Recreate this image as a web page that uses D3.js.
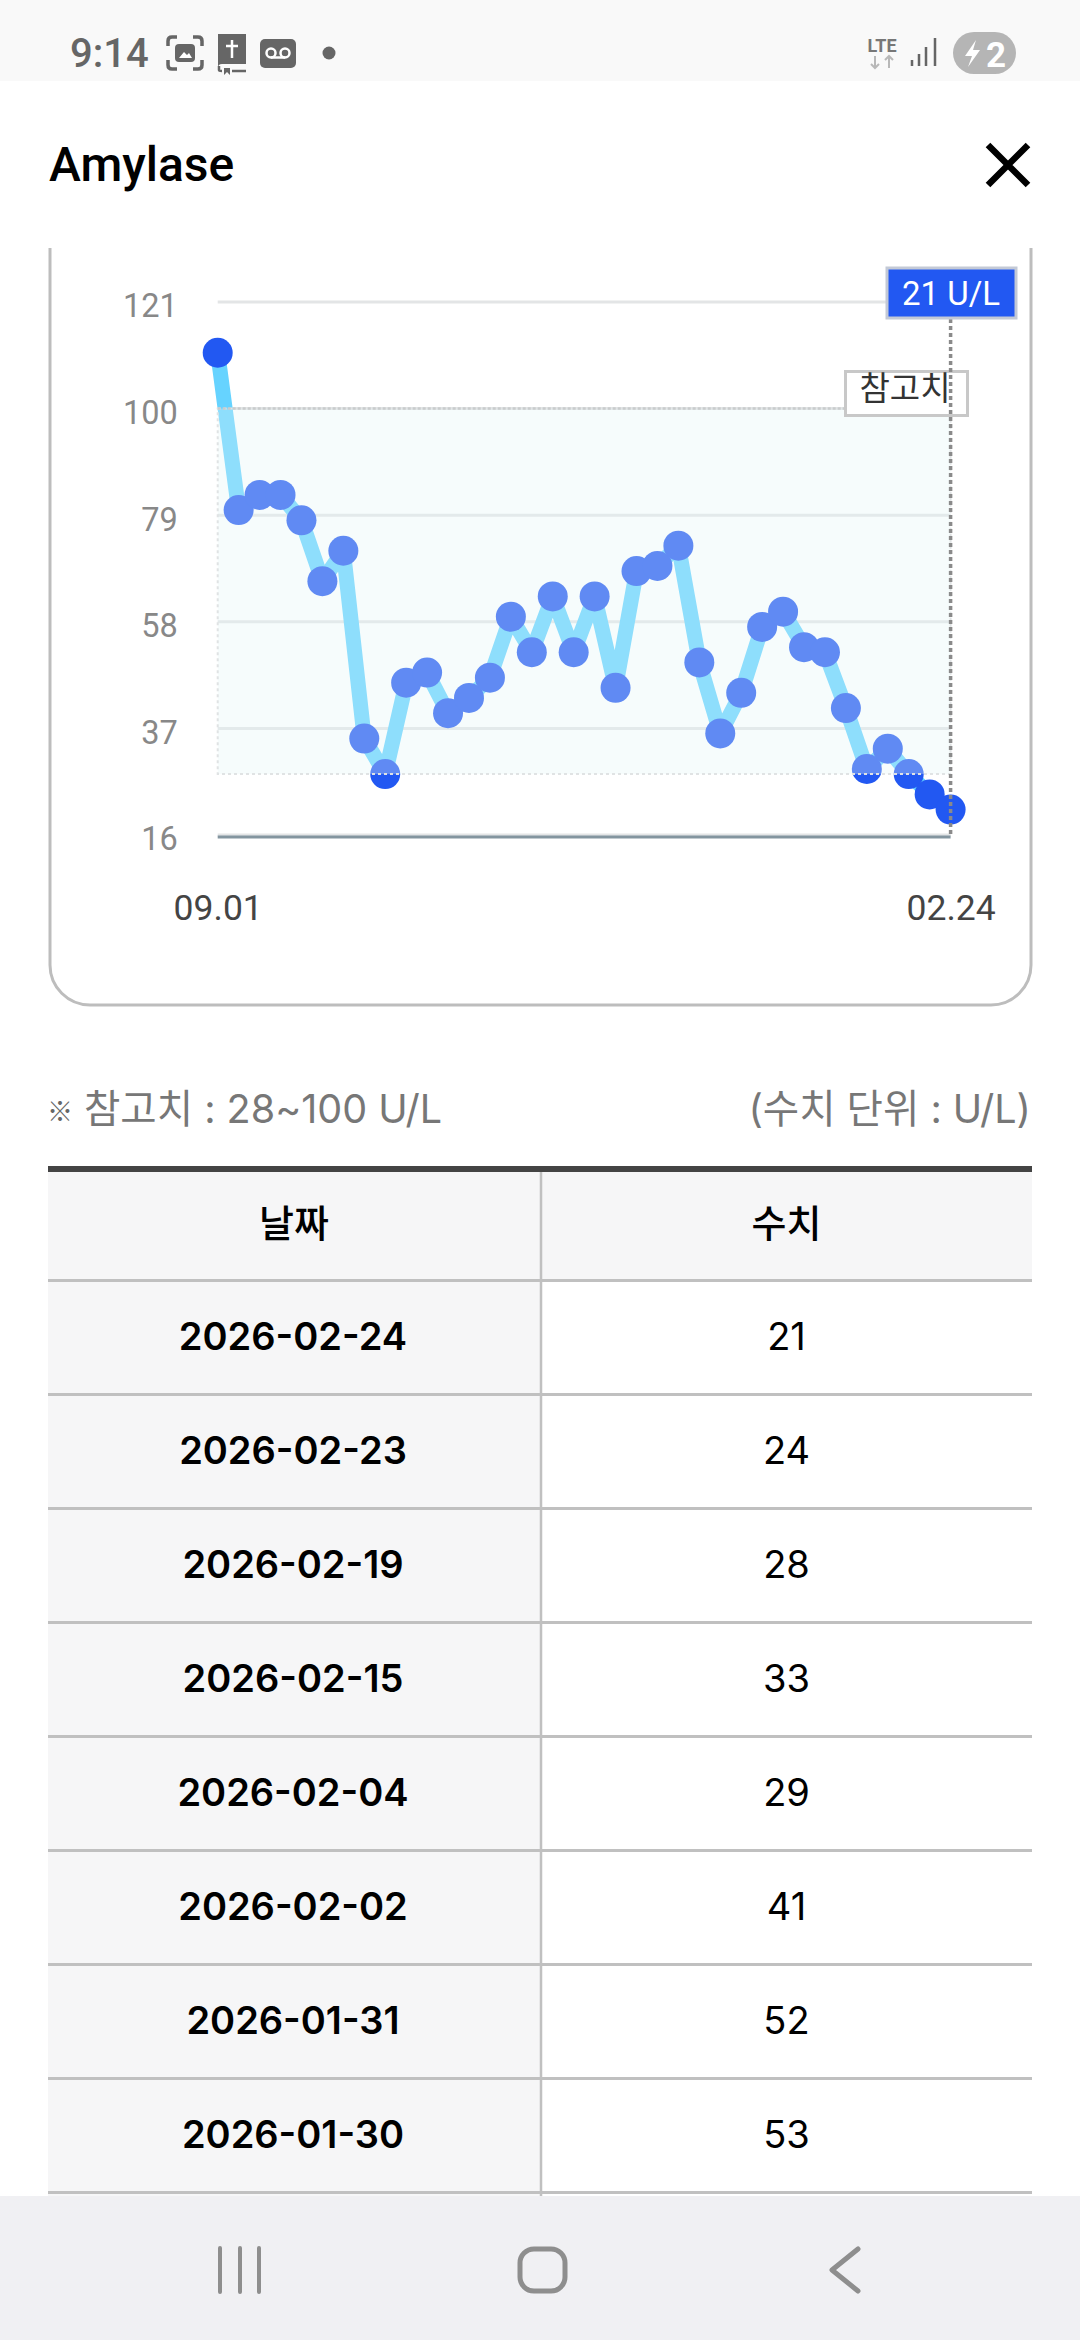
<!DOCTYPE html>
<html>
<head>
<meta charset="utf-8">
<script src="https://cdn.jsdelivr.net/npm/d3@7"></script>
<style>
  html, body { margin: 0; padding: 0; background: #fff; }
  svg { display: block; }
  text { font-family: Roboto, "Noto Sans CJK KR", sans-serif; }
  .kr { font-family: "Noto Sans CJK KR", sans-serif; }
  .in { font-family: Inter, "Noto Sans CJK KR", sans-serif; }
</style>
</head>
<body>
<div id="chart"></div>
<script>
const values = [111, 80, 83, 83, 78, 66, 72, 35, 28, 46, 48, 40, 43, 47, 59, 52, 63, 52,
                63, 45, 68, 69, 73, 50, 36, 44, 57, 60, 53, 52, 41, 29, 33, 28, 24, 21];
const yTicks = [16, 37, 58, 79, 100, 121];
const xLabels = ["09.01", "02.24"];
const refRange = [28, 100];
const tableDates = ["2026-02-24", "2026-02-23", "2026-02-19", "2026-02-15",
                    "2026-02-04", "2026-02-02", "2026-01-31", "2026-01-30"];
const tableValues = values.slice(-8).reverse();

const svg = d3.select("#chart").append("svg").attr("width", 1080).attr("height", 2340);

const x = d3.scalePoint().domain(d3.range(values.length)).range([217.7, 950.6]);
const y = d3.scaleLinear().domain([16, 121]).range([835, 302]);

// card, its top is cut off by the header below
svg.append("rect")
  .attr("x", 50).attr("y", 100).attr("width", 981).attr("height", 905).attr("rx", 40)
  .attr("fill", "#fff").attr("stroke", "#bdbdbd").attr("stroke-width", 3);

// grid + axes
const yAxis = d3.axisLeft(y).tickValues(yTicks).tickSize(0).tickPadding(40);
const gy = svg.append("g").attr("transform", `translate(${x(0)},0)`).call(yAxis);
gy.select(".domain").remove();
gy.selectAll("text")
  .attr("fill", "#888").attr("font-size", 32.5).attr("dy", "0.46em")
  .style("font-family", "Roboto");

svg.append("g").selectAll("line")
  .data(yTicks)
  .join("line")
  .attr("x1", x(0)).attr("x2", x(35))
  .attr("y1", d => y(d)).attr("y2", d => y(d))
  .attr("stroke", "#e3e5e6").attr("stroke-width", 3);

svg.append("line")
  .attr("x1", x(0)).attr("x2", x(35))
  .attr("y1", y(16) + 2).attr("y2", y(16) + 2)
  .attr("stroke", "#83959f").attr("stroke-width", 3);

const xAxis = d3.axisBottom(x)
  .tickValues([0, values.length - 1])
  .tickFormat((d, i) => xLabels[i])
  .tickSize(0);
const gx = svg.append("g").attr("transform", "translate(0,884)").call(xAxis);
gx.select(".domain").remove();
gx.selectAll("text")
  .attr("fill", "#444").attr("font-size", 35.5).attr("y", 0).attr("dy", "1em")
  .style("font-family", "Roboto");

// series
const line = d3.line().x((d, i) => x(i)).y(d => y(d));
svg.append("path")
  .datum(values)
  .attr("d", line)
  .attr("fill", "none")
  .attr("stroke", "#66d3ff")
  .attr("stroke-width", 15)
  .attr("stroke-linejoin", "round");

svg.append("g").selectAll("circle")
  .data(values)
  .join("circle")
  .attr("cx", (d, i) => x(i))
  .attr("cy", d => y(d))
  .attr("r", 15)
  .attr("fill", "#2258f2");

// reference band lies over the marks, that is what fades them
svg.append("rect")
  .attr("x", x(0)).attr("width", x(35) - x(0))
  .attr("y", y(refRange[1])).attr("height", y(refRange[0]) - y(refRange[1]))
  .attr("fill", "rgb(228,246,246)").attr("fill-opacity", 0.32)
  .attr("stroke", "#e0e3e4").attr("stroke-width", 2).attr("stroke-dasharray", "3,3");
svg.append("line")
  .attr("x1", x(0)).attr("x2", x(35))
  .attr("y1", y(refRange[1])).attr("y2", y(refRange[1]))
  .attr("stroke", "#c9cccd").attr("stroke-width", 2.5).attr("stroke-dasharray", "3,2");

// reference label
svg.append("rect")
  .attr("x", 845.5).attr("y", 371.5).attr("width", 122).attr("height", 44)
  .attr("fill", "#fff").attr("stroke", "#c8c8c8").attr("stroke-width", 3);
svg.append("text")
  .attr("class", "kr").attr("x", 905).attr("y", 400)
  .attr("text-anchor", "middle").attr("font-size", 33).attr("fill", "#333")
  .text("참고치");

// marker for the latest value
svg.append("line")
  .attr("x1", x(35)).attr("x2", x(35)).attr("y1", 319).attr("y2", 836)
  .attr("stroke", "#8a8a8a").attr("stroke-width", 3.5).attr("stroke-dasharray", "4,3");
svg.append("rect")
  .attr("x", 887).attr("y", 268).attr("width", 129).attr("height", 50)
  .attr("fill", "#2258f2").attr("stroke", "#c3c9d6").attr("stroke-width", 3);
svg.append("text")
  .attr("x", 951).attr("y", 304.5)
  .attr("text-anchor", "middle").attr("font-size", 33).attr("fill", "#fff")
  .text(values[values.length - 1] + " U/L");

// header and status bar
svg.append("rect").attr("width", 1080).attr("height", 248).attr("fill", "#fff");
svg.append("rect").attr("width", 1080).attr("height", 81).attr("fill", "#f9f9f9");

svg.append("text")
  .attr("x", 49).attr("y", 181).attr("font-size", 48).attr("font-weight", 500).attr("fill", "#000")
  .text("Amylase");
svg.append("path")
  .attr("d", "M988 145 L1028 185 M1028 145 L988 185")
  .attr("fill", "none").attr("stroke", "#000").attr("stroke-width", 6.5);

svg.append("text")
  .attr("x", 70).attr("y", 67).attr("font-size", 40).attr("font-weight", 500).attr("fill", "#666")
  .text("9:14");

const status = svg.append("g");
// screenshot icon
status.append("path")
  .attr("d", "M168 46 V41 Q168 37 172 37 H177 M193 37 H198 Q202 37 202 41 V46 M202 60 V65 Q202 69 198 69 H193 M177 69 H172 Q168 69 168 65 V60")
  .attr("fill", "none").attr("stroke", "#666").attr("stroke-width", 3.5);
status.append("rect").attr("x", 175).attr("y", 44).attr("width", 20).attr("height", 18).attr("rx", 4).attr("fill", "#666");
status.append("path").attr("d", "M179 58 L184 52 L187 55 L189 53 L192 58 Z").attr("fill", "#fff");
// book icon
status.append("path").attr("d", "M218 34 H246 V64 H222 Q218 64 218 68 Z").attr("fill", "#666");
status.append("path").attr("d", "M232 40 V58 M226 46 H238").attr("stroke", "#fff").attr("stroke-width", 2.5);
status.append("path").attr("d", "M219 66 V70 Q219 71 222 71 M232 71 H246").attr("fill", "none").attr("stroke", "#666").attr("stroke-width", 2.5);
status.append("path").attr("d", "M224 68 H230 V75 L227 72 L224 75 Z").attr("fill", "#666");
// voicemail icon
status.append("rect").attr("x", 260).attr("y", 39).attr("width", 36).attr("height", 29).attr("rx", 5).attr("fill", "#666");
status.append("circle").attr("cx", 271).attr("cy", 53).attr("r", 4.5).attr("fill", "none").attr("stroke", "#fff").attr("stroke-width", 2.5);
status.append("circle").attr("cx", 285).attr("cy", 53).attr("r", 4.5).attr("fill", "none").attr("stroke", "#fff").attr("stroke-width", 2.5);
status.append("path").attr("d", "M271 57.5 H285").attr("stroke", "#fff").attr("stroke-width", 2.5);
status.append("circle").attr("cx", 329).attr("cy", 53).attr("r", 6.5).attr("fill", "#666");
// network
status.append("text")
  .attr("x", 882).attr("y", 52).attr("text-anchor", "middle")
  .attr("font-size", 18).attr("font-weight", 700).attr("fill", "#777")
  .text("LTE");
status.append("path")
  .attr("d", "M875 56 V68 M871 64 L875 68 L879 64 M889 68 V56 M885 60 L889 56 L893 60")
  .attr("fill", "none").attr("stroke", "#b8b8b8").attr("stroke-width", 2);
status.append("path")
  .attr("d", "M912 60 V66 M919 54 V66 M926 47 V66 M935 38 V66")
  .attr("fill", "none").attr("stroke", "#666").attr("stroke-width", 2.5);
// battery
status.append("rect").attr("x", 953).attr("y", 32).attr("width", 63).attr("height", 42).attr("rx", 21).attr("fill", "#b5b5b5");
status.append("path").attr("d", "M976 40 L965 56 H972 L968 67 L980 50 H973 Z").attr("fill", "#fff");
status.append("text")
  .attr("x", 996).attr("y", 67).attr("text-anchor", "middle")
  .attr("font-size", 35).attr("font-weight", 700).attr("fill", "#fff")
  .text("2");

// note above the table
svg.append("text")
  .attr("class", "kr").attr("x", 47).attr("y", 1121)
  .attr("font-size", 26).attr("font-weight", 700).attr("fill", "#666")
  .text("※");
svg.append("text")
  .attr("class", "in").attr("x", 84).attr("y", 1123)
  .attr("font-size", 39.5).attr("fill", "#777")
  .text("참고치 : 28~100 U/L");
svg.append("text")
  .attr("class", "in").attr("x", 1031).attr("y", 1123)
  .attr("text-anchor", "end").attr("font-size", 39.5).attr("fill", "#777")
  .text("(수치 단위 : U/L)");

// table
const rowH = 114;
const tableTop = 1280.5;
const table = svg.append("g");
table.append("rect").attr("x", 48).attr("y", 1170).attr("width", 984).attr("height", tableTop - 1170).attr("fill", "#f6f6f7");
table.append("rect").attr("x", 48).attr("y", tableTop).attr("width", 493).attr("height", 930).attr("fill", "#f6f6f7");
table.append("rect").attr("x", 48).attr("y", 1166).attr("width", 984).attr("height", 6).attr("fill", "#444");
table.append("line")
  .attr("x1", 541).attr("x2", 541).attr("y1", 1172).attr("y2", 2200)
  .attr("stroke", "#c0c0c0").attr("stroke-width", 2.5);
table.selectAll("line.row")
  .data(d3.range(tableDates.length + 1))
  .join("line")
  .attr("class", "row")
  .attr("x1", 48).attr("x2", 1032)
  .attr("y1", d => tableTop + d * rowH).attr("y2", d => tableTop + d * rowH)
  .attr("stroke", "#c0c0c0").attr("stroke-width", 3);

table.append("text")
  .attr("class", "kr").attr("x", 294).attr("y", 1237)
  .attr("text-anchor", "middle").attr("font-size", 38).attr("font-weight", 500).attr("fill", "#000")
  .text("날짜");
table.append("text")
  .attr("class", "kr").attr("x", 786.5).attr("y", 1237)
  .attr("text-anchor", "middle").attr("font-size", 38).attr("font-weight", 500).attr("fill", "#000")
  .text("수치");

table.selectAll("text.date")
  .data(tableDates)
  .join("text")
  .attr("class", "date in")
  .attr("x", 293).attr("y", (d, i) => tableTop + i * rowH + 69)
  .attr("text-anchor", "middle").attr("font-size", 38).attr("font-weight", 600).attr("fill", "#000")
  .text(d => d);
table.selectAll("text.val")
  .data(tableValues)
  .join("text")
  .attr("class", "val in")
  .attr("x", 786.5).attr("y", (d, i) => tableTop + i * rowH + 69)
  .attr("text-anchor", "middle").attr("font-size", 38).attr("fill", "#000")
  .text(d => d);

// nav bar
svg.append("rect").attr("y", 2196).attr("width", 1080).attr("height", 144).attr("fill", "#f0f0f3");
const nav = svg.append("g").attr("fill", "none").attr("stroke", "#8e8e8e");
nav.append("path").attr("d", "M220 2248 V2292 M240 2248 V2292 M259 2248 V2292")
  .attr("stroke-width", 4).attr("stroke-linecap", "round");
nav.append("rect").attr("x", 520).attr("y", 2249).attr("width", 45).attr("height", 42).attr("rx", 14)
  .attr("stroke-width", 5);
nav.append("path").attr("d", "M858 2249 L832 2270 L858 2291")
  .attr("stroke-width", 5).attr("stroke-linecap", "round").attr("stroke-linejoin", "round");
</script>
</body>
</html>
